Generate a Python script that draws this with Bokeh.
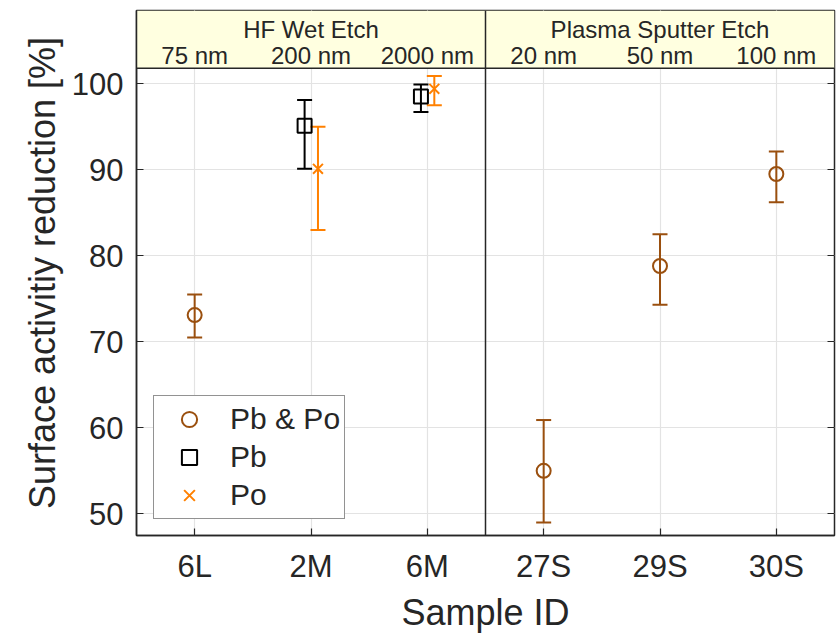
from bokeh.plotting import figure
from bokeh.models import (Range1d, FixedTicker, LinearAxis, Whisker, TeeHead, Grid,
                          ColumnDataSource, Legend, LegendItem, Span)
from bokeh.core.properties import value
from bokeh.embed import file_html
from bokeh.resources import INLINE

# ---------------- data ----------------
samples = ["6L", "2M", "6M", "27S", "29S", "30S"]
thickness = ["75 nm", "200 nm", "2000 nm", "20 nm", "50 nm", "100 nm"]
groups = ["HF Wet Etch", "Plasma Sputter Etch"]
group_members = [["6L", "2M", "6M"], ["27S", "29S", "30S"]]

pbpo_samples = ["6L", "27S", "29S", "30S"]
pbpo_mean = [73.1, 55.0, 78.8, 89.5]
pbpo_lower = [70.5, 49.0, 74.3, 86.2]
pbpo_upper = [75.5, 60.9, 82.5, 92.1]

pb_samples = ["2M", "6M"]
pb_mean = [95.1, 98.5]
pb_lower = [90.1, 96.7]
pb_upper = [98.1, 99.9]

po_samples = ["2M", "6M"]
po_mean = [90.1, 99.4]
po_lower = [83.0, 97.5]
po_upper = [95.0, 100.9]

y_ticks = [50, 60, 70, 80, 90, 100]

# ---------------- styles / layout ----------------
FONT = "Liberation Sans"
TXT = "#262626"
BROWN = "#9A4F0E"
ORANGE = "#FF8000"
BLACK = "#000000"
HEADER_FILL = "#FFFFE0"
Y_MIN, Y_FRAME_TOP, Y_TOP = 47.48, 101.78, 108.5
GROUP_LABEL_Y = 106.25
THICK_LABEL_Y = 103.3
OFF_PB, OFF_PO = -0.055, 0.06

pos = {s: i + 1 for i, s in enumerate(samples)}

p = figure(width=836, height=636, output_backend="svg", toolbar_location=None,
           x_range=Range1d(0.5, len(samples) + 0.5), y_range=Range1d(Y_MIN, Y_TOP),
           min_border_left=136, min_border_right=2, min_border_top=10,
           min_border_bottom=101, x_axis_location=None, y_axis_location=None)
p.background_fill_color = "white"
p.border_fill_color = "white"
p.outline_line_color = TXT
p.outline_line_width = 1.5

# axes
xaxis = LinearAxis(ticker=FixedTicker(ticks=[pos[s] for s in samples]),
                   major_label_overrides={pos[s]: s for s in samples},
                   axis_label="Sample ID")
yaxis = LinearAxis(ticker=FixedTicker(ticks=y_ticks),
                   axis_label="Surface activitiy reduction [%]")
raxis = LinearAxis(ticker=FixedTicker(ticks=y_ticks))
for ax in (xaxis, yaxis, raxis):
    ax.major_tick_in = 7
    ax.major_tick_out = 0
    ax.minor_tick_line_color = None
    ax.axis_line_color = TXT
    ax.axis_line_width = 1.5
    ax.major_tick_line_color = TXT
    ax.major_tick_line_width = 1.2
    ax.major_label_text_font = FONT
    ax.major_label_text_font_size = "31px"
    ax.major_label_text_color = TXT
    ax.axis_label_text_font = FONT
    ax.axis_label_text_font_size = "36px"
    ax.axis_label_text_font_style = "normal"
    ax.axis_label_text_color = TXT
xaxis.major_label_standoff = 13
xaxis.axis_label_standoff = 5
yaxis.major_label_standoff = 13
yaxis.axis_label_standoff = 6
raxis.major_label_text_font_size = "1px"
raxis.major_label_text_color = None
raxis.major_label_standoff = 0
raxis.axis_line_color = None
p.add_layout(xaxis, "below")
p.add_layout(yaxis, "left")
p.add_layout(raxis, "right")

# grid
p.add_layout(Grid(dimension=0, ticker=xaxis.ticker, grid_line_color="#E3E3E3", grid_line_width=1.2))
p.add_layout(Grid(dimension=1, ticker=yaxis.ticker, grid_line_color="#E3E3E3", grid_line_width=1.2))

# header band
p.quad(left=[0.5], right=[len(samples) + 0.5], bottom=[Y_FRAME_TOP], top=[Y_TOP],
       fill_color=HEADER_FILL, line_color=None)
p.add_layout(Span(location=Y_FRAME_TOP, dimension="width", line_color=TXT, line_width=1.5))
p.add_layout(Span(location=len(group_members[0]) + 0.5, dimension="height",
                  line_color=TXT, line_width=1.5))

gx = [sum(pos[s] for s in m) / len(m) for m in group_members]
p.text(x=gx, y=[GROUP_LABEL_Y] * len(gx), text=groups, text_font=value(FONT),
       text_font_size="24px", text_color=TXT, text_align="center", text_baseline="middle")
p.text(x=[pos[s] for s in samples], y=[THICK_LABEL_Y] * len(samples), text=thickness,
       text_font=value(FONT), text_font_size="24px", text_color=TXT,
       text_align="center", text_baseline="middle")


def series(names, mean, lower, upper, offset, color, marker):
    src = ColumnDataSource(dict(x=[pos[s] + offset for s in names], y=mean,
                                lo=lower, hi=upper))
    w = Whisker(base="x", upper="hi", lower="lo", source=src, dimension="height",
                line_color=color, line_width=2,
                upper_head=TeeHead(size=15, line_color=color, line_width=2),
                lower_head=TeeHead(size=15, line_color=color, line_width=2))
    p.add_layout(w)
    mk = p.scatter("x", "y", source=src, marker=marker, size=14, fill_color=None,
                   line_color=color, line_width=2)
    return [mk]


r1 = series(pbpo_samples, pbpo_mean, pbpo_lower, pbpo_upper, 0.0, BROWN, "circle")
r2 = series(pb_samples, pb_mean, pb_lower, pb_upper, OFF_PB, BLACK, "square")
r3 = series(po_samples, po_mean, po_lower, po_upper, OFF_PO, ORANGE, "x")

legend = Legend(items=[LegendItem(label="Pb & Po", renderers=r1),
                       LegendItem(label="Pb", renderers=r2),
                       LegendItem(label="Po", renderers=r3)],
                location=(17, 16), orientation="vertical")
legend.label_text_font = FONT
legend.label_text_font_size = "30px"
legend.label_text_color = TXT
legend.glyph_width = 62
legend.glyph_height = 38
legend.label_height = 38
legend.label_standoff = 10
legend.padding = 4
legend.spacing = 0
legend.margin = 0
legend.border_line_color = TXT
legend.border_line_width = 1.5
legend.background_fill_color = "white"
legend.background_fill_alpha = 1.0
p.add_layout(legend)

open("out.html", "w").write(file_html(p, INLINE))
